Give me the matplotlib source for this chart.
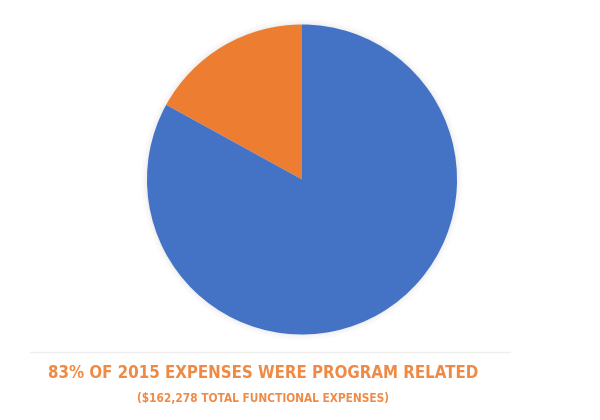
import matplotlib.pyplot as plt

# expense split for 2015 (percent of total functional expenses)
categories = ['Other', 'Program']
shares = [17, 83]
colors = ['#ED7D31', '#4472C4']
title = '83% OF 2015 EXPENSES WERE PROGRAM RELATED'
subtitle = '($162,278 TOTAL FUNCTIONAL EXPENSES)'

fig = plt.figure(figsize=(6, 4.2), dpi=100)
fig.patch.set_facecolor('white')

# pie axes sits where the circle is in the reference
ax = fig.add_axes([147 / 600, 1 - 335 / 420, 310 / 600, 311 / 420])
# soft shadow round the pie
for r, a in [(1.035, 0.03), (1.02, 0.04), (1.008, 0.05)]:
    ax.add_patch(plt.Circle((0, 0), r, color='#888888', alpha=a, lw=0,
                            clip_on=False))
ax.pie(shares, colors=colors, startangle=90, counterclock=True,
       wedgeprops=dict(linewidth=0), radius=1)
ax.set_xlim(-1, 1)
ax.set_ylim(-1, 1)
ax.set_aspect('equal')
ax.axis('off')

# faint rule above the caption
fig.add_artist(plt.Line2D([30 / 600, 510 / 600], [1 - 352 / 420] * 2,
                          color='#eeeeee', lw=1))

t1 = fig.text(263 / 600, 1 - 373 / 420, title, ha='center', va='center',
              family='DejaVu Sans', stretch='condensed', weight='bold',
              fontsize=15, color='#EE8A45')
t2 = fig.text(263 / 600, 1 - 399 / 420, subtitle, ha='center', va='center',
              family='DejaVu Sans', stretch='condensed', weight='bold',
              fontsize=10.5, color='#EE8A45')

# shrink the captions to the width they take in the reference
r = fig.canvas.get_renderer()
for t, w in [(t1, 430), (t2, 253)]:
    bw = t.get_window_extent(r).width
    if bw > w:
        t.set_fontsize(t.get_fontsize() * w / bw)

fig.savefig('out.png', dpi=100, facecolor='white')
